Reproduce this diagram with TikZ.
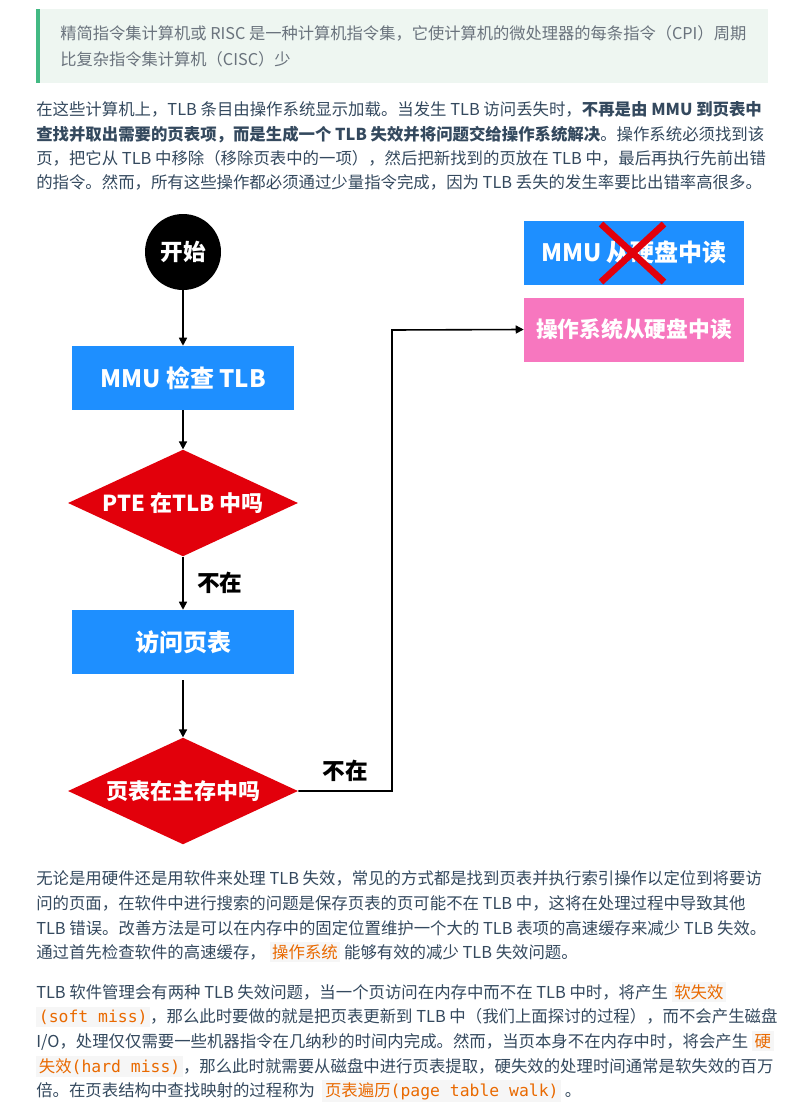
\documentclass[tikz,border=0pt]{standalone}
\usepackage{fontspec}
\setmainfont{Noto Sans CJK SC}
\newfontfamily\codefont{DejaVu Sans Mono}
\usetikzlibrary{shapes.geometric,arrows.meta}
\definecolor{txt}{HTML}{34495E}
\definecolor{qbg}{HTML}{EEF6F1}
\definecolor{qbar}{HTML}{42B983}
\definecolor{qtxt}{HTML}{6A737D}
\definecolor{codebg}{HTML}{F6F6F6}
\definecolor{codeor}{HTML}{E96900}
\definecolor{fblue}{HTML}{1E8FFF}
\definecolor{fred}{HTML}{E2000B}
\definecolor{fpink}{HTML}{F777BF}
\newcommand\mycode[1]{{\setlength{\fboxsep}{2pt}\colorbox{codebg}{\textcolor{codeor}{#1}}}}
\begin{document}
\begin{tikzpicture}[x=0.75pt,y=-0.75pt,
  line/.style={anchor=base west,inner sep=0,font=\fontsize{12.3pt}{14pt}\selectfont,text=txt},
  qline/.style={line,text=qtxt,font=\fontsize{12.2pt}{14pt}\selectfont},
  box/.style={minimum width=166.5pt,minimum height=48pt,inner sep=0,text=white,font=\fontsize{18pt}{20pt}\selectfont\bfseries},
  dia/.style={diamond,fill=fred,aspect=2.15,minimum width=172.5pt,minimum height=80pt,inner sep=0,text=white,font=\fontsize{16.5pt}{19pt}\selectfont\bfseries},
  arr/.style={-{Triangle[length=6pt,width=6pt]},line width=1.2pt},
  lab/.style={font=\fontsize{17pt}{19pt}\selectfont\bfseries,text=black,inner sep=0}]
\useasboundingbox[fill=white] (0,0) rectangle (807,1106);
% quote
\fill[qbg] (36,9) rectangle (768,83);
\fill[qbar] (36,9) rectangle (40,83);
\node[qline] (q1) at (60,40) {精简指令集计算机或 RISC 是一种计算机指令集，它使计算机的微处理器的每条指令（CPI）周期};
\node[qline] (q2) at (60,65) {比复杂指令集计算机（CISC）少};
% paragraph 1
\node[line] (p1) at (36,115) {在这些计算机上，TLB 条目由操作系统显示加载。当发生 TLB 访问丢失时，\textbf{不再是由 MMU 到页表中}};
\node[line] (p2) at (36,140) {\textbf{查找并取出需要的页表项，而是生成一个 TLB 失效并将问题交给操作系统解决}。操作系统必须找到该};
\node[line] (p3) at (36,164) {页，把它从 TLB 中移除（移除页表中的一项），然后把新找到的页放在 TLB 中，最后再执行先前出错};
\node[line] (p4) at (36,188) {的指令。然而，所有这些操作都必须通过少量指令完成，因为 TLB 丢失的发生率要比出错率高很多。};
% flowchart
\node[circle,fill=black,minimum size=57pt,inner sep=0,text=white,font=\fontsize{17pt}{19pt}\selectfont\bfseries] (start) at (183,252) {开始};
\node[box,fill=fblue] (mmu) at (183,378) {MMU 检查 TLB};
\node[dia] (pte) at (183,503) {PTE 在TLB 中吗};
\node[box,fill=fblue] (visit) at (183,642) {访问页表};
\node[dia] (pt) at (183,791) {页表在主存中吗};
\node[box,fill=fblue,minimum width=165pt] (hw) at (634,252.5) {MMU 从硬盘中读};
\node[box,fill=fpink,minimum width=165pt,font=\fontsize{16.3pt}{19pt}\selectfont\bfseries] (os) at (634,329.5) {操作系统从硬盘中读};
\draw[fred,line width=5pt] (601,224) -- (664,282) (664,224) -- (601,282);
\coordinate (c1) at (392,791);
\coordinate (c2) at (392,330);
\draw[arr] (start) -- (mmu);
\draw[arr] (mmu) -- (pte);
\draw[arr] (pte) -- node[lab,right=10pt] (n1) {不在} (visit);
\draw[arr] ([yshift=-4.5pt]visit.south) -- (pt);
\draw[arr] (pt.east) -- (c1) -- (c2) -- (os.west);
\node[lab] (n2) at (345,771) {不在};
% paragraph 2
\node[line] (r1) at (36,884) {无论是用硬件还是用软件来处理 TLB 失效，常见的方式都是找到页表并执行索引操作以定位到将要访};
\node[line] (r2) at (36,909) {问的页面，在软件中进行搜索的问题是保存页表的页可能不在 TLB 中，这将在处理过程中导致其他};
\node[line] (r3) at (36,934) {TLB 错误。改善方法是可以在内存中的固定位置维护一个大的 TLB 表项的高速缓存来减少 TLB 失效。};
\node[line] (r4) at (36,958) {通过首先检查软件的高速缓存，\ \mycode{操作系统}\ 能够有效的减少 TLB 失效问题。};
% paragraph 3
\node[line] (s1) at (36,998) {TLB 软件管理会有两种 TLB 失效问题，当一个页访问在内存中而不在 TLB 中时，将产生 \mycode{软失效}};
\node[line] (s2) at (36,1022) {\mycode{{\codefont (soft miss)}}，那么此时要做的就是把页表更新到 TLB 中（我们上面探讨的过程），而不会产生磁盘};
\node[line] (s3) at (36,1047) {I/O，处理仅仅需要一些机器指令在几纳秒的时间内完成。然而，当页本身不在内存中时，将会产生 \mycode{硬}};
\node[line] (s4) at (36,1072) {\mycode{失效{\codefont (hard miss)}}，那么此时就需要从磁盘中进行页表提取，硬失效的处理时间通常是软失效的百万};
\node[line] (s5) at (36,1096) {倍。在页表结构中查找映射的过程称为\ \ \mycode{页表遍历{\codefont (page table walk)}}\ 。};
\end{tikzpicture}
\end{document}
